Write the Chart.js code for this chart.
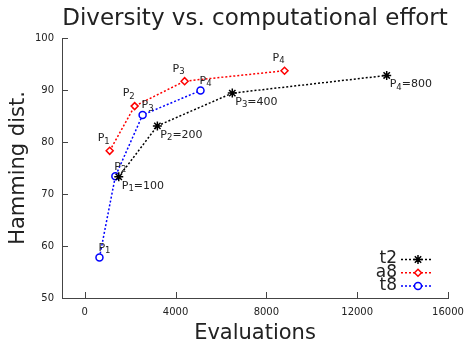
<!DOCTYPE html>
<html>
<head>
<meta charset="utf-8">
<script src="https://cdn.jsdelivr.net/npm/chart.js@4.4.1/dist/chart.umd.min.js"></script>
<style>
  html, body { margin: 0; padding: 0; background: #fff; }
  #wrap { width: 466px; height: 342px; }
</style>
</head>
<body>
<div id="wrap"><canvas id="c"></canvas></div>
<script>
// ---- data ----
const TITLE = 'Diversity vs. computational effort';
const SERIES_NAMES = ['t2', 'a8', 't8'];

const T2_X = [1500, 3200, 6500, 13300];
const T2_Y = [73.3, 83.1, 89.4, 92.8];
const T2_LABELS = ['P_1=100', 'P_2=200', 'P_3=400', 'P_4=800'];

const A8_X = [1100, 2200, 4400, 8800];
const A8_Y = [78.3, 86.9, 91.7, 93.7];
const A8_LABELS = ['P_1', 'P_2', 'P_3', 'P_4'];

const T8_X = [650, 1350, 2550, 5100];
const T8_Y = [57.8, 73.4, 85.2, 89.9];
const T8_LABELS = ['P_1', 'P_2', 'P_3', 'P_4'];

const X_TICKS = [0, 4000, 8000, 12000, 16000];
const Y_TICKS = [50, 60, 70, 80, 90, 100];

const FONT = "'DejaVu Sans', sans-serif";
const INK = '#222';

function pts(xs, ys) {
    return xs.map((x, i) => ({ x: x, y: ys[i] }));
}

// label like "P_1=100": P, subscript digit, rest
function drawLabel(ctx, text, x, y, align) {
    const m = text.match(/^([^_]*)_(.)(.*)$/);
    const parts = m ? [[m[1], 0, 11], [m[2], 3, 8.5], [m[3], 0, 11]] : [[text, 0, 11]];
    let w = 0;
    parts.forEach(p => { ctx.font = p[2] + 'px ' + FONT; w += ctx.measureText(p[0]).width; });
    let cx = align === 'center' ? x - w / 2 : x;
    ctx.textAlign = 'left';
    parts.forEach(p => {
        ctx.font = p[2] + 'px ' + FONT;
        ctx.fillText(p[0], cx, y + p[1]);
        cx += ctx.measureText(p[0]).width;
    });
}

// title, inward tick marks, point labels and gnuplot-style key
const decor = {
    id: 'decor',
    afterDatasetsDraw(chart) {
        const ctx = chart.ctx;
        const xs = chart.scales.x, ys = chart.scales.y;
        const area = chart.chartArea;
        ctx.save();

        ctx.fillStyle = INK;
        ctx.font = '23px ' + FONT;
        ctx.textAlign = 'center';
        ctx.textBaseline = 'middle';
        ctx.fillText(TITLE, (area.left + area.right) / 2, 19);

        ctx.strokeStyle = '#444';
        ctx.lineWidth = 1;
        ctx.beginPath();
        xs.ticks.forEach(t => {
            const px = Math.round(xs.getPixelForValue(t.value)) + 0.5;
            ctx.moveTo(px, area.bottom);
            ctx.lineTo(px, area.bottom - 6);
        });
        ys.ticks.forEach(t => {
            const py = Math.round(ys.getPixelForValue(t.value)) + 0.5;
            ctx.moveTo(area.left, py);
            ctx.lineTo(area.left + 6, py);
        });
        ctx.stroke();

        // point labels
        ctx.fillStyle = INK;
        ctx.textBaseline = 'middle';
        chart.data.datasets.forEach((ds, di) => {
            const meta = chart.getDatasetMeta(di);
            const o = ds.labelOffset;
            meta.data.forEach((el, i) => {
                drawLabel(ctx, ds.pointLabels[i], el.x + o.dx, el.y + o.dy, o.align);
            });
        });

        // key (text right-aligned, then sample line with marker)
        ctx.font = '17px ' + FONT;
        const kx = area.right - 51, ky = area.bottom - 39;
        chart.data.datasets.forEach((ds, di) => {
            const y = ky + di * 13.3;
            ctx.fillStyle = INK;
            ctx.textAlign = 'right';
            ctx.fillText(ds.label, kx, y);
            ctx.strokeStyle = ds.borderColor;
            ctx.lineWidth = 1.5;
            ctx.setLineDash([2, 2]);
            ctx.beginPath();
            ctx.moveTo(kx + 4, y + 0.5);
            ctx.lineTo(kx + 36, y + 0.5);
            ctx.stroke();
            ctx.setLineDash([]);
            ctx.fillStyle = ds.pointBackgroundColor;
            ctx.strokeStyle = ds.borderColor;
            ctx.lineWidth = ds.pointBorderWidth;
            Chart.helpers.drawPoint(ctx, {
                pointStyle: ds.pointStyle,
                radius: ds.pointRadius,
                borderWidth: ds.pointBorderWidth,
                rotation: 0
            }, kx + 21, y + 0.5);
        });
        ctx.restore();
    }
};

const ctx = document.getElementById('c').getContext('2d');
new Chart(ctx, {
    type: 'scatter',
    data: {
        datasets: [
            {
                label: SERIES_NAMES[0],
                data: pts(T2_X, T2_Y),
                pointLabels: T2_LABELS,
                labelOffset: { dx: 3, dy: 9, align: 'left' },
                showLine: true,
                borderColor: '#000',
                borderWidth: 1.5,
                borderDash: [2, 2],
                pointStyle: 'star',
                pointRadius: 4.5,
                pointBorderWidth: 1.5,
                pointBackgroundColor: '#000'
            },
            {
                label: SERIES_NAMES[1],
                data: pts(A8_X, A8_Y),
                pointLabels: A8_LABELS,
                labelOffset: { dx: -6, dy: -12.5, align: 'center' },
                showLine: true,
                borderColor: '#ff0000',
                borderWidth: 1.5,
                borderDash: [2, 2],
                pointStyle: 'rectRot',
                pointRadius: 3.5,
                pointBorderWidth: 1.5,
                pointBackgroundColor: '#fff'
            },
            {
                label: SERIES_NAMES[2],
                data: pts(T8_X, T8_Y),
                pointLabels: T8_LABELS,
                labelOffset: { dx: -1, dy: -9.5, align: 'left' },
                showLine: true,
                borderColor: '#0000ff',
                borderWidth: 1.5,
                borderDash: [2, 2],
                pointStyle: 'circle',
                pointRadius: 3.5,
                pointBorderWidth: 1.5,
                pointBackgroundColor: '#fff'
            }
        ]
    },
    options: {
        responsive: true,
        maintainAspectRatio: false,
        animation: false,
        layout: { padding: { left: 0, right: 18, top: 38, bottom: 0 } },
        plugins: {
            legend: { display: false },
            tooltip: { enabled: false },
            title: { display: false }
        },
        scales: {
            x: {
                type: 'linear',
                min: -1000, max: 16000,
                afterBuildTicks: s => { s.ticks = X_TICKS.map(v => ({ value: v })); },
                afterFit: s => { s.height = 44; s.paddingRight = 0; s.paddingLeft = 0; },
                ticks: {
                    color: INK, font: { family: FONT, size: 10 }, padding: 8,
                    callback: v => String(v)
                },
                grid: { display: true, drawOnChartArea: false, drawTicks: false },
                border: { display: true, color: '#444', width: 1 },
                title: {
                    display: true, text: 'Evaluations', color: INK,
                    font: { family: FONT, size: 21 }, padding: { top: 0, bottom: -4 }
                }
            },
            y: {
                type: 'linear',
                min: 50, max: 100,
                afterBuildTicks: s => { s.ticks = Y_TICKS.map(v => ({ value: v })); },
                afterFit: s => { s.width = 62; s.paddingTop = 0; s.paddingBottom = 0; },
                ticks: {
                    color: INK, font: { family: FONT, size: 10 }, padding: 8,
                    callback: v => String(v)
                },
                grid: { display: true, drawOnChartArea: false, drawTicks: false },
                border: { display: true, color: '#444', width: 1 },
                title: {
                    display: true, text: 'Hamming dist.', color: INK,
                    font: { family: FONT, size: 21 }, padding: { top: 6, bottom: 4 }
                }
            }
        }
    },
    plugins: [decor]
});
</script>
</body>
</html>
